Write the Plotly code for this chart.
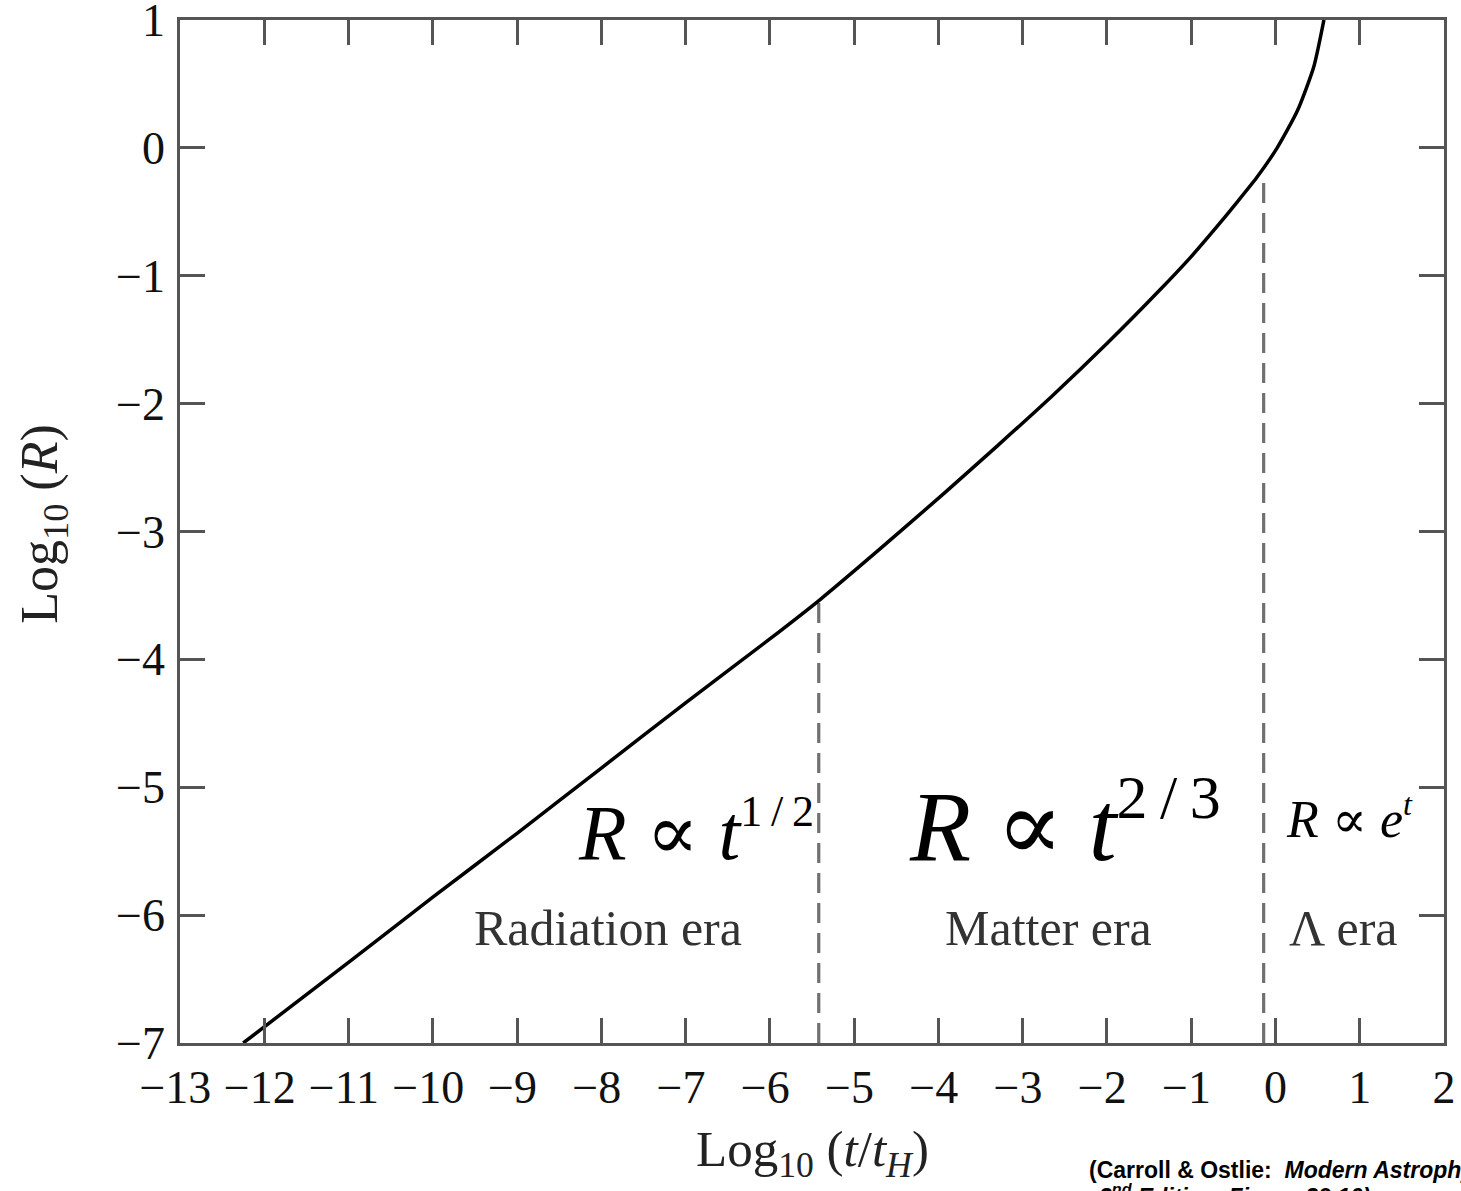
import plotly.graph_objects as go

# ---- data ----
log_t = [-12.25, -11.0, -10.0, -9.0, -8.0, -7.0, -6.0, -5.4, -4.7, -3.93, -3.3,
         -2.65, -2.0, -1.37, -1.0, -0.7, -0.45, -0.22, 0.02, 0.26, 0.455, 0.575]
log_R = [-7.0, -6.37, -5.86, -5.36, -4.85, -4.34, -3.84, -3.53, -3.14, -2.70, -2.33,
         -1.94, -1.53, -1.11, -0.85, -0.62, -0.42, -0.23, 0.0, 0.29, 0.635, 1.0]

boundary_x = [-5.42, -0.14]      # era boundaries (dashed)
boundary_top = [-3.53, -0.21]    # where each dashed line meets the curve

x_ticks = list(range(-13, 3))
y_ticks = list(range(-7, 2))
x_ticklabels = [("\u2212%d\u2009" % -v) if v < 0 else str(v) for v in x_ticks]
y_ticklabels = [("\u2212%d" % -v) if v < 0 else str(v) for v in y_ticks]

era_names = ["Radiation era", "Matter era", "\u039b era"]
era_x = [-7.92, -2.69, 0.81]
era_y = -6.1

PROP = "<span style='font-family:DejaVu Serif'>\u221d</span>"
law_texts = [
    "<i>R</i> " + PROP + " <i>t</i><sup><span style='font-size:44px'>1\u2009/\u20092</span></sup>",
    "<i>R</i> " + PROP + " <i>t</i><sup><span style='font-size:62px'>2\u2009/\u20093</span></sup>",
    "<i>R</i> " + PROP + " <i>e</i><sup><span style='font-size:32px'><i>t</i></span></sup>",
]
law_x = [-6.88, -2.50, 0.88]
law_y = [-5.35, -5.28, -5.24]
law_size = [78, 100, 52]

citation_lines = [
    "<b>(Carroll &amp; Ostlie:\u00a0\u00a0<i>Modern Astrophysics,</i></b>",
    "<b><i>2<sup>nd</sup> Edition, Figure 29.10)</i></b>",
]

SERIF = "Liberation Serif, Times New Roman, serif"

fig = go.Figure()

for bx, by in zip(boundary_x, boundary_top):
    fig.add_trace(go.Scatter(
        x=[bx, bx], y=[-7, by], mode="lines",
        line=dict(color="#707070", width=3.2, dash="20px,10px"),
        hoverinfo="skip", showlegend=False))

fig.add_trace(go.Scatter(
    x=log_t, y=log_R, mode="lines",
    line=dict(color="black", width=3.5, shape="spline", smoothing=0.6),
    showlegend=False))

axis_common = dict(
    showline=True, linecolor="#555555", linewidth=2.5, mirror="ticks",
    ticks="inside", ticklen=25, tickwidth=2.5, tickcolor="#555555",
    showgrid=False, zeroline=False, tickangle=0, automargin=False,
    tickfont=dict(family=SERIF, size=46, color="#111111"),
)

fig.update_xaxes(range=[-13.0001, 2.0001], tickmode="array", tickvals=x_ticks,
                 ticktext=x_ticklabels, ticklabelstandoff=2, **axis_common)
fig.update_yaxes(range=[-7.0001, 1.0001], tickmode="array", tickvals=y_ticks,
                 ticktext=y_ticklabels, ticklabelstandoff=3, **axis_common)

ann = []
for name, x in zip(era_names, era_x):
    ann.append(dict(x=x, y=era_y, xref="x", yref="y", text=name, showarrow=False,
                    xanchor="center", yanchor="middle",
                    font=dict(family=SERIF, size=50, color="#333333")))
for t, x, y, s in zip(law_texts, law_x, law_y, law_size):
    ann.append(dict(x=x, y=y, xref="x", yref="y", text=t, showarrow=False,
                    xanchor="center", yanchor="middle",
                    font=dict(family=SERIF, size=s, color="black")))

# axis titles
ann.append(dict(x=0.5, y=-0.108, xref="paper", yref="paper", xanchor="center",
                yanchor="middle",
                text="Log<sub>10</sub> (<i>t</i>/<i>t<sub>H</sub></i>)", showarrow=False,
                font=dict(family=SERIF, size=51, color="#222222")))
ann.append(dict(x=-0.108, y=0.508, xref="paper", yref="paper", textangle=-90,
                xanchor="center", yanchor="middle",
                text="Log<sub>10</sub> (<i>R</i>)", showarrow=False,
                font=dict(family=SERIF, size=52, color="#222222")))

# citation (cut off at the right/bottom edge as in the reference)
cit_x = [0.7175, 0.725]
cit_y = [-0.1095, -0.1315]
for t, x, y in zip(citation_lines, cit_x, cit_y):
    ann.append(dict(x=x, y=y, xref="paper", yref="paper", xanchor="left",
                    yanchor="top", align="left", showarrow=False, text=t,
                    font=dict(family="Liberation Sans, Arial, sans-serif", size=23,
                              color="black")))

fig.update_layout(
    width=1461, height=1191,
    margin=dict(l=180, r=17, t=20, b=148, autoexpand=False),
    paper_bgcolor="white", plot_bgcolor="white",
    annotations=ann,
)

fig.write_html("out.html", config={"displayModeBar": False},
               post_script="document.body.style.margin='0';document.body.style.overflow='hidden';")
